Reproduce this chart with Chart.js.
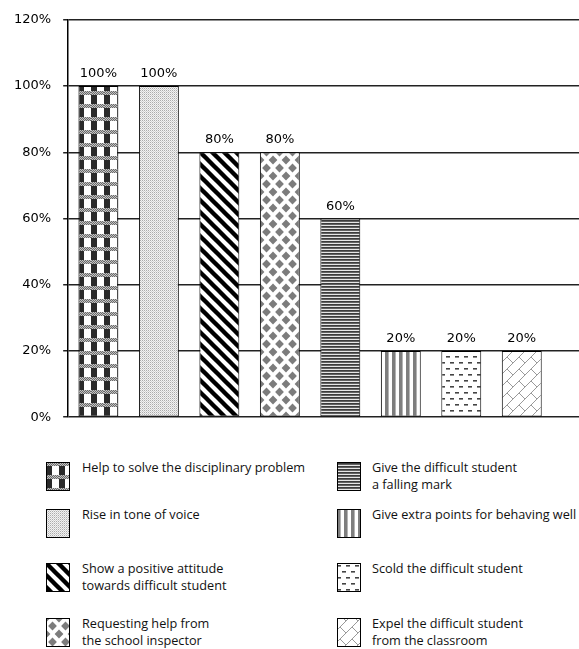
<!DOCTYPE html>
<html>
<head>
<meta charset="utf-8">
<script src="https://cdn.jsdelivr.net/npm/chart.js@4.4.0/dist/chart.umd.min.js"></script>
<style>
    html, body { margin: 0; padding: 0; background: #fff; }
    #wrap { position: relative; width: 579px; height: 649px; overflow: hidden; }
    #chart-box { position: absolute; left: 0; top: 0; }
    .sw { position: absolute; }
    .lt { position: absolute; font-family: "Open Sans", sans-serif; font-size: 12.7px; line-height: 17px; color: #111; white-space: nowrap; }
</style>
</head>
<body>
<div id="wrap">
    <canvas id="chart-box" width="579" height="437"></canvas>
</div>
<script>
// Données du graphique
const categories = [
    'Help to solve the disciplinary problem',
    'Rise in tone of voice',
    'Show a positive attitude\ntowards difficult student',
    'Requesting help from\nthe school inspector',
    'Give the difficult student\na falling mark',
    'Give extra points for behaving well',
    'Scold the difficult student',
    'Expel the difficult student\nfrom the classroom'
];
const percentValues = [100, 100, 80, 80, 60, 20, 20, 20];
const axisMax = 120;
const axisStep = 20;

// Motifs de remplissage (façon Excel)
function makeTile(w, h, draw) {
    const c = document.createElement('canvas');
    c.width = w; c.height = h;
    const g = c.getContext('2d');
    g.fillStyle = '#fff';
    g.fillRect(0, 0, w, h);
    draw(g, w, h);
    return c;
}

const tiles = [
    // quadrillage sombre avec bandes grises
    makeTile(13, 13, g => {
        for (let y = 0; y < 4; y++) {
            for (let x = 0; x < 13; x++) {
                g.fillStyle = (x + y) % 2 ? '#6a6a6a' : '#c4c4c4';
                g.fillRect(x, y, 1, 1);
            }
        }
        g.fillStyle = '#2a2a2a';
        g.fillRect(0, 4, 6, 9);
    }),
    // pointillé clair
    makeTile(2, 2, g => {
        g.fillStyle = '#f2f2f2'; g.fillRect(0, 0, 2, 2);
        g.fillStyle = '#ababab'; g.fillRect(0, 0, 1, 1);
        g.fillStyle = '#d2d2d2'; g.fillRect(1, 1, 1, 1);
    }),
    // larges diagonales descendantes
    makeTile(12, 12, (g, w) => {
        g.strokeStyle = '#000';
        g.lineWidth = 4.4;
        for (let k = -1; k <= 1; k++) {
            g.beginPath();
            g.moveTo(k * w - 2, -2);
            g.lineTo(k * w + w + 2, w + 2);
            g.stroke();
        }
    }),
    // losanges gris
    makeTile(13, 16, g => {
        g.fillStyle = '#7c7c7c';
        const pts = [[0, 0], [13, 0], [0, 16], [13, 16], [6.5, 8]];
        pts.forEach(([cx, cy]) => {
            g.beginPath();
            g.moveTo(cx, cy - 4.6);
            g.lineTo(cx + 4.4, cy);
            g.lineTo(cx, cy + 4.6);
            g.lineTo(cx - 4.4, cy);
            g.closePath();
            g.fill();
        });
    }),
    // lignes horizontales serrées
    makeTile(1, 3, g => {
        g.fillStyle = '#e6e6e6'; g.fillRect(0, 0, 1, 1);
        g.fillStyle = '#3c3c3c'; g.fillRect(0, 1, 1, 1);
        g.fillStyle = '#626262'; g.fillRect(0, 2, 1, 1);
    }),
    // lignes verticales
    makeTile(7, 1, g => {
        g.fillStyle = '#7e7e7e'; g.fillRect(0, 0, 3, 1);
        g.fillStyle = '#b4b4b4'; g.fillRect(3, 0, 1, 1);
    }),
    // tirets horizontaux
    makeTile(9, 12, g => {
        g.fillStyle = '#444';
        g.fillRect(0, 2, 4, 1.6);
        g.fillRect(5, 8, 4, 1.6);
    }),
    // briques diagonales
    makeTile(12, 12, g => {
        g.strokeStyle = '#9a9a9a';
        g.lineWidth = 1;
        g.beginPath();
        g.moveTo(-1, 13); g.lineTo(13, -1);
        g.moveTo(3, 9); g.lineTo(6, 12);
        g.moveTo(6, 0); g.lineTo(9, 3);
        g.stroke();
    })
];

const patCtx = document.createElement('canvas').getContext('2d');
const patterns = tiles.map(t => patCtx.createPattern(t, 'repeat'));

// Prolonge les lignes de grille jusqu'au bord droit
const extendGrid = {
    id: 'extendGrid',
    afterDraw(chart) {
        const { ctx, chartArea, scales } = chart;
        const y = scales.y;
        const lw = 1.5;
        ctx.save();
        ctx.strokeStyle = '#222';
        ctx.lineWidth = lw;
        y.ticks.forEach(t => {
            let py = y.getPixelForValue(t.value);
            py = Math.round(py - lw / 2) + lw / 2;
            ctx.beginPath();
            ctx.moveTo(chartArea.right, py);
            ctx.lineTo(chart.width, py);
            ctx.stroke();
        });
        ctx.restore();
    }
};

// Étiquettes au-dessus des barres
const valueLabels = {
    id: 'valueLabels',
    afterDatasetsDraw(chart) {
        const { ctx } = chart;
        const meta = chart.getDatasetMeta(0);
        ctx.save();
        ctx.font = '13px "DejaVu Sans"';
        ctx.fillStyle = '#000';
        ctx.textAlign = 'center';
        ctx.textBaseline = 'alphabetic';
        meta.data.forEach((bar, i) => {
            ctx.fillText(percentValues[i] + '%', bar.x, bar.y - 9);
        });
        ctx.restore();
    }
};

const chart = new Chart(document.getElementById('chart-box'), {
    type: 'bar',
    data: {
        labels: categories,
        datasets: [{
            data: percentValues,
            backgroundColor: patterns,
            borderColor: '#000',
            borderWidth: 1,
            borderSkipped: false,
            categoryPercentage: 1,
            barPercentage: 0.66
        }]
    },
    options: {
        responsive: false,
        animation: false,
        layout: { padding: { left: 2, right: 27, top: 18, bottom: 8 } },
        scales: {
            x: { display: false },
            y: {
                min: 0,
                max: axisMax,
                ticks: {
                    stepSize: axisStep,
                    padding: 12,
                    color: '#000',
                    font: { family: 'DejaVu Sans', size: 13 },
                    callback: v => v + '%'
                },
                grid: { color: '#222', lineWidth: 1.5, tickLength: 5 },
                border: { color: '#000', width: 1.5 }
            }
        },
        plugins: {
            legend: { display: false },
            tooltip: { enabled: false }
        }
    },
    plugins: [extendGrid, valueLabels]
});

// Légende en deux colonnes
const rowTops = [462, 509, 563, 618];
const wrap = document.getElementById('wrap');
categories.forEach((label, i) => {
    const col = Math.floor(i / 4);
    const top = rowTops[i % 4];
    const sx = col === 0 ? 46 : 337;
    const tx = col === 0 ? 82 : 372;

    const sw = document.createElement('canvas');
    sw.width = 24; sw.height = 29;
    sw.className = 'sw';
    sw.style.left = sx + 'px';
    sw.style.top = top + 'px';
    const g = sw.getContext('2d');
    g.fillStyle = patterns[i];
    g.fillRect(0, 0, 24, 29);
    g.strokeStyle = '#000';
    g.lineWidth = 1;
    g.strokeRect(0.5, 0.5, 23, 28);
    wrap.appendChild(sw);

    const txt = document.createElement('div');
    txt.className = 'lt';
    txt.style.left = tx + 'px';
    txt.style.top = (top - 3) + 'px';
    txt.innerHTML = label.split('\n').join('<br>');
    wrap.appendChild(txt);
});
</script>
</body>
</html>
